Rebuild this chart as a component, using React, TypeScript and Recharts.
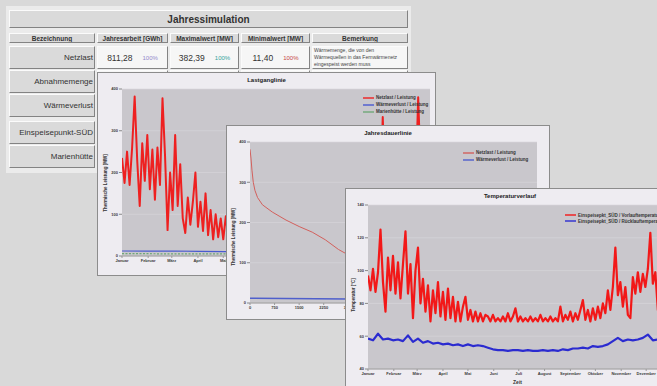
import React from 'react';
import { LineChart, Line, XAxis, YAxis, CartesianGrid, Legend } from 'recharts';

// ---------- table content ----------
const tableTitle = 'Jahressimulation';
const tableColumns = ['Bezeichnung', 'Jahresarbeit [GWh]', 'Maximalwert [MW]', 'Minimalwert [MW]', 'Bemerkung'];
const rowLabels = ['Netzlast', 'Abnahmemenge', 'Wärmeverlust', 'Einspeisepunkt-SÜD', 'Marienhütte'];
const netzlastValues = ['811,28', '382,39', '11,40'];
const netzlastShares = ['100%', '100%', '100%'];
const shareColors = ['#9488cc', '#35a39a', '#c64646'];
const netzlastRemark = ['Wärmemenge, die von den', 'Wärmequellen in das Fernwärmenetz', 'eingespeist werden muss'];

// ---------- chart content ----------
const monthNames = ['Januar', 'Februar', 'März', 'April', 'Mai', 'Juni', 'Juli', 'August', 'September', 'Oktober', 'November', 'Dezember'];
const monthStartDays = [0, 31, 59, 90, 120, 151, 181, 212, 243, 273, 304, 334];

const lastSeriesNames = ['Netzlast / Leistung', 'Wärmeverlust / Leistung', 'Marienhütte / Leistung'];
const lastSeriesColors = ['#ee2020', '#4a5ad0', '#6fa877'];
const durSeriesNames = ['Netzlast / Leistung', 'Wärmeverlust / Leistung'];
const durSeriesColors = ['#d2605c', '#4f5fcc'];
const tempSeriesNames = ['Einspeisepkt_SÜD / Vorlauftemperatur', 'Einspeisepkt_SÜD / Rücklauftemperatur'];
const tempSeriesColors = ['#f21818', '#2b2bd0'];

// Lastganglinie: Netzlast [MW], one value every 3 days
const netzlastLoad = [
  235, 175, 250, 170, 260, 382, 230, 120, 270, 180, 290, 160, 255, 135, 260, 170, 378, 240, 62, 200,
  110, 290, 120, 220, 90, 55, 140, 75, 130, 200, 70, 130, 60, 150, 50, 110, 40, 100, 45, 90, 40,
  95, 45, 85, 40, 90, 42, 80, 38, 75, 40,
  70, 35, 72, 38, 68, 35, 70, 36, 66, 34,
  65, 33, 68, 35, 64, 32, 66, 34, 63, 33,
  65, 35, 67, 34, 64, 36, 70, 38, 72, 40,
  75, 42, 80, 45, 85, 48, 95, 50, 110, 55,
  120, 60, 140, 70, 160, 85, 180, 100, 210, 110,
  230, 130, 333, 150, 240, 140, 250, 160, 270, 170,
  280, 180, 290, 190, 270, 175, 380, 200, 260, 170,
  240,
];
// Wärmeverlust and Marienhütte [MW], one value every 30 days
const waermeverlustLoad = [12, 11.5, 12, 11, 10.5, 10, 9.5, 9.5, 10, 10.5, 11, 12, 12.5];
const marienhuetteLoad = [5.5, 5.5, 5, 5, 5, 4.5, 4.5, 4.5, 5, 5, 5.5, 5.5, 5.5];

// Jahresdauerlinie
const durationHours = [0, 30, 60, 100, 150, 230, 380, 680, 1100, 1500, 1900, 2300, 2700, 2900, 3300, 3800, 4400, 5000, 5600, 6200, 6800, 7400, 8000, 8500, 8760];
const durationNetzlast = [382, 360, 330, 300, 280, 262, 244, 226, 206, 190, 176, 157, 133, 124, 105, 88, 72, 60, 50, 42, 35, 28, 20, 15, 11.4];
const durationVerlustHours = [0, 2000, 5000, 8760];
const durationVerlust = [12, 10.5, 9, 7.5];
const durationTicks = [0, 750, 1500, 2250, 3000, 3750, 4500, 5250, 6000, 6750, 7500, 8250];

// Temperaturverlauf [°C]: Vorlauf every 3 days, Rücklauf every 6 days
const vorlaufTemp = [
  97, 88, 101, 87, 99, 125, 93, 75, 108, 88, 109, 86, 105, 83, 104, 124, 86, 104, 71, 100,
  114, 80, 95, 75, 91, 69, 88, 74, 93, 72, 87, 70, 89, 71, 84, 69, 81, 69, 78, 84,
  70, 76, 69, 75, 69, 74, 69, 73,
  72, 69, 73, 69, 71, 69, 72, 69, 74, 69, 72, 77, 69, 72, 69, 71, 69, 72, 69, 71,
  69, 73, 69, 71, 69, 72, 69, 71, 69, 78, 69, 73, 70, 75, 69, 74, 70, 76, 82, 70,
  76, 69, 77, 70, 78, 71, 80, 74, 88, 76, 90, 114, 85, 93, 78, 90, 73, 71, 96, 86,
  99, 87, 98, 90, 101, 123, 92, 99, 76, 95, 85, 97, 86, 95,
];
const ruecklaufTemp = [
  58.5, 57.5, 61.5, 58, 58.5, 57.5, 58, 57, 60.5, 56.5, 58.5, 56, 57, 55.5, 56, 55, 55.5, 54.5, 55, 54,
  55, 54, 54.5, 54, 53, 52, 51.5, 51.5, 51, 51.5, 51.5, 51, 51.5, 51, 51, 51.5, 51, 51.5, 51, 52,
  51.5, 52.5, 52.5, 53, 52.5, 54, 53.5, 54, 55, 57, 59, 57, 58, 57.5, 58, 59, 61, 57.5, 58, 57, 58.5,
];

const lastRed = netzlastLoad.map((v, i) => ({ day: i * 3, v }));
const lastBlue = waermeverlustLoad.map((v, i) => ({ day: Math.min(i * 30.4, 365), v }));
const lastGreen = marienhuetteLoad.map((v, i) => ({ day: Math.min(i * 30.4, 365), v }));
const durRed = durationHours.map((h, i) => ({ h, v: durationNetzlast[i] }));
const durBlue = durationVerlustHours.map((h, i) => ({ h, v: durationVerlust[i] }));
const tempRed = vorlaufTemp.map((v, i) => ({ day: i * 3, v }));
const tempBlue = ruecklaufTemp.map((v, i) => ({ day: i * 6, v }));

const FONT = '"Liberation Sans", Arial, sans-serif';
const tickStyle = { fontSize: 4, fontWeight: 700, fill: '#3a3a3a', fontFamily: FONT };

function Box({ x1, y1, x2, y2, bg = '#dadada', style = {}, children = null }: any) {
  return (
    <div
      style={{
        position: 'absolute', left: x1, top: y1, width: x2 - x1, height: y2 - y1,
        boxSizing: 'border-box', background: bg, borderStyle: 'solid', borderWidth: 1,
        borderColor: '#fbfbfb #838383 #838383 #fbfbfb', overflow: 'hidden', ...style,
      }}
    >
      {children}
    </div>
  );
}

const makeLegend = (rowH: number, order: string[], colors: string[]) => () => (
  <div style={{ fontFamily: FONT, fontSize: 4.5, fontWeight: 700, color: '#333' }}>
    {order.map((name, i) => (
      <div key={name} style={{ display: 'flex', alignItems: 'center', height: rowH, whiteSpace: 'nowrap' }}>
        <svg width={11} height={4} style={{ flex: 'none', marginRight: 2 }}>
          <line x1={0} y1={2} x2={11} y2={2} stroke={colors[i]} strokeWidth={1.4} />
        </svg>
        <span>{name}</span>
      </div>
    ))}
  </div>
);

function Panel({ left, top, width, height, title, titleTop = 5, children }: any) {
  return (
    <div style={{ position: 'absolute', left, top, width, height }}>
      <div style={{ position: 'absolute', left: 0, top: 0, width, height, boxSizing: 'border-box', background: '#eeecf1', border: '1px solid #8c8c8c' }} />
      <div style={{ position: 'absolute', left: 0, width, top: titleTop, textAlign: 'center', fontFamily: FONT, fontSize: 6, fontWeight: 700, color: '#222' }}>{title}</div>
      <div style={{ position: 'absolute', left: 0, top: 0 }}>{children}</div>
    </div>
  );
}

function VTitle({ cx, cy, text }: any) {
  return (
    <div style={{ position: 'absolute', left: cx, top: cy, transform: 'translate(-50%, -50%) rotate(-90deg)', whiteSpace: 'nowrap', fontFamily: FONT, fontSize: 4.5, fontWeight: 700, color: '#333' }}>
      {text}
    </div>
  );
}

const monthFmt = (d: number) => monthNames[monthStartDays.indexOf(d)] || '';

export default function App() {
  const colX = [[9, 95], [97, 168], [170, 239], [241, 310], [312, 408]];
  const rowY = [[46, 69], [70, 93], [94, 117], [121, 144], [145, 168]];
  return (
    <div style={{ position: 'absolute', left: 0, top: 0, width: 657, height: 386, background: '#d9d9d9', overflow: 'hidden', fontFamily: FONT }}>
      {/* table */}
      <div style={{ position: 'absolute', left: 6, top: 6, width: 405, height: 167, background: '#ebebeb' }} />
      <Box x1={9} y1={10} x2={408} y2={28} style={{ display: 'flex', alignItems: 'center', justifyContent: 'center', fontSize: 10, color: '#333', fontWeight: 600 }}>
        {tableTitle}
      </Box>
      {tableColumns.map((c, i) => (
        <Box key={c} x1={colX[i][0]} y1={33} x2={colX[i][1]} y2={43} style={{ display: 'flex', alignItems: 'center', justifyContent: 'center', fontSize: 6.5, fontWeight: 700, color: '#333' }}>
          {c}
        </Box>
      ))}
      {rowLabels.map((r, ri) => (
        <React.Fragment key={r}>
          <Box x1={colX[0][0]} y1={rowY[ri][0]} x2={colX[0][1]} y2={rowY[ri][1]} style={{ display: 'flex', alignItems: 'center', justifyContent: 'flex-end', paddingRight: 1, fontSize: 8, color: '#333' }}>
            {r}
          </Box>
          {[1, 2, 3, 4].map((ci) => (
            <Box key={ci} x1={colX[ci][0]} y1={rowY[ri][0]} x2={colX[ci][1]} y2={rowY[ri][1]} bg="#f6f6f6" />
          ))}
        </React.Fragment>
      ))}
      {netzlastValues.map((v, i) => (
        <div key={i} style={{ position: 'absolute', left: colX[i + 1][0], top: 46, width: colX[i + 1][1] - colX[i + 1][0], height: 23, display: 'flex', alignItems: 'center', justifyContent: 'center', gap: 10 }}>
          <span style={{ fontSize: 8.5, color: '#333' }}>{v}</span>
          <span style={{ fontSize: 6, color: shareColors[i] }}>{netzlastShares[i]}</span>
        </div>
      ))}
      <div style={{ position: 'absolute', left: 314, top: 47, fontSize: 5, lineHeight: '7px', color: '#444', whiteSpace: 'nowrap' }}>
        {netzlastRemark.map((l, i) => (<div key={i}>{l}</div>))}
      </div>

      {/* Lastganglinie */}
      <Panel left={97} top={72} width={339} height={204} title="Lastganglinie">
        <LineChart width={339} height={204} margin={{ top: 17, right: 6, bottom: 8, left: 5 }}>
          <CartesianGrid vertical={false} fill="#c9c7cc" stroke="#d9d7dc" strokeWidth={0.6} />
          <XAxis type="number" dataKey="day" domain={[0, 365]} ticks={monthStartDays} tickFormatter={monthFmt} interval={0} height={12} tick={tickStyle} tickSize={2} tickMargin={1} axisLine={{ stroke: '#9a9a9a' }} tickLine={{ stroke: '#9a9a9a' }} allowDataOverflow />
          <YAxis type="number" domain={[0, 400]} ticks={[0, 100, 200, 300, 400]} interval={0} width={20} tick={tickStyle} tickSize={3} tickMargin={1} axisLine={false} tickLine={{ stroke: '#888' }} />
          <Legend layout="horizontal" verticalAlign="middle" align="center" content={makeLegend(7, lastSeriesNames, lastSeriesColors)} wrapperStyle={{ left: 266, top: 22, width: 80, height: 22 }} />
          <Line data={lastRed} dataKey="v" name={lastSeriesNames[0]} stroke={lastSeriesColors[0]} strokeWidth={2} strokeLinejoin="round" dot={false} activeDot={false} isAnimationActive={false} />
          <Line data={lastBlue} dataKey="v" name={lastSeriesNames[1]} stroke={lastSeriesColors[1]} strokeWidth={1.2} dot={false} activeDot={false} isAnimationActive={false} />
          <Line data={lastGreen} dataKey="v" name={lastSeriesNames[2]} stroke={lastSeriesColors[2]} strokeWidth={1.2} strokeDasharray="2 1.5" dot={false} activeDot={false} isAnimationActive={false} />
        </LineChart>
        <VTitle cx={8} cy={111} text="Thermische Leistung [MW]" />
      </Panel>

      {/* Jahresdauerlinie */}
      <Panel left={226} top={125} width={324} height={195} title="Jahresdauerlinie">
        <LineChart width={324} height={195} margin={{ top: 17, right: 13, bottom: 5, left: 4 }}>
          <CartesianGrid vertical={false} fill="#c9c7cc" stroke="#d9d7dc" strokeWidth={0.6} />
          <XAxis type="number" dataKey="h" domain={[0, 8760]} ticks={durationTicks} interval={0} height={12} tick={tickStyle} tickSize={2} tickMargin={1} axisLine={{ stroke: '#9a9a9a' }} tickLine={{ stroke: '#9a9a9a' }} allowDataOverflow />
          <YAxis type="number" domain={[0, 400]} ticks={[0, 100, 200, 300, 400]} interval={0} width={20} tick={tickStyle} tickSize={3} tickMargin={1} axisLine={false} tickLine={{ stroke: '#888' }} />
          <Legend layout="horizontal" verticalAlign="middle" align="center" content={makeLegend(7, durSeriesNames, durSeriesColors)} wrapperStyle={{ left: 237, top: 24, width: 85, height: 15 }} />
          <Line data={durRed} dataKey="v" name={durSeriesNames[0]} stroke={durSeriesColors[0]} strokeWidth={1} dot={false} activeDot={false} isAnimationActive={false} />
          <Line data={durBlue} dataKey="v" name={durSeriesNames[1]} stroke={durSeriesColors[1]} strokeWidth={1.5} dot={false} activeDot={false} isAnimationActive={false} />
        </LineChart>
        <VTitle cx={7} cy={112} text="Thermische Leistung [MW]" />
      </Panel>

      {/* Temperaturverlauf */}
      <Panel left={345} top={188} width={330} height={200} title="Temperaturverlauf">
        <LineChart width={330} height={200} margin={{ top: 17, right: 3, bottom: 7, left: 3 }}>
          <CartesianGrid vertical={false} fill="#c9c7cc" stroke="#d9d7dc" strokeWidth={0.6} />
          <XAxis type="number" dataKey="day" domain={[0, 365]} ticks={monthStartDays} tickFormatter={monthFmt} interval={0} height={12} tick={tickStyle} tickSize={2} tickMargin={1} axisLine={{ stroke: '#9a9a9a' }} tickLine={{ stroke: '#9a9a9a' }} allowDataOverflow />
          <YAxis type="number" domain={[40, 140]} ticks={[40, 60, 80, 100, 120, 140]} interval={0} width={20} tick={tickStyle} tickSize={3} tickMargin={1} axisLine={false} tickLine={{ stroke: '#888' }} />
          <Legend layout="horizontal" verticalAlign="middle" align="center" content={makeLegend(6, tempSeriesNames, tempSeriesColors)} wrapperStyle={{ left: 220, top: 24, width: 110, height: 13 }} />
          <Line data={tempRed} dataKey="v" name={tempSeriesNames[0]} stroke={tempSeriesColors[0]} strokeWidth={2.2} strokeLinejoin="round" dot={false} activeDot={false} isAnimationActive={false} />
          <Line data={tempBlue} dataKey="v" name={tempSeriesNames[1]} stroke={tempSeriesColors[1]} strokeWidth={2.2} strokeLinejoin="round" dot={false} activeDot={false} isAnimationActive={false} />
        </LineChart>
        <VTitle cx={8} cy={107} text="Temperatur [°C]" />
        <div style={{ position: 'absolute', left: 0, width: 345, top: 191, textAlign: 'center', fontFamily: FONT, fontSize: 5, fontWeight: 700, color: '#333' }}>Zeit</div>
      </Panel>
    </div>
  );
}
